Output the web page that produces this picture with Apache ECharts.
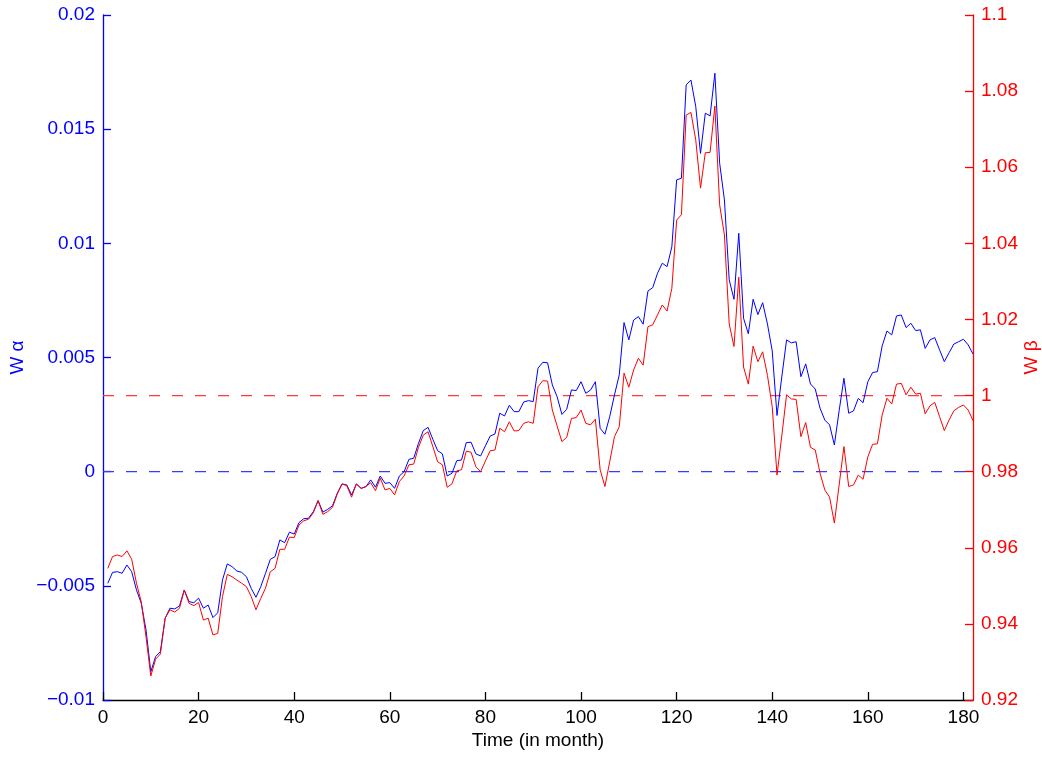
<!DOCTYPE html>
<html>
<head>
<meta charset="utf-8">
<script src="https://cdn.jsdelivr.net/npm/echarts@6/dist/echarts.min.js"></script>
<style>
html,body{margin:0;padding:0;background:#fff;}
#chart{width:1042px;height:757px;}
</style>
</head>
<body>
<div id="chart"></div>
<script>
const alpha = [
-0.00489,-0.00441,-0.00438,-0.00445,-0.00409,-0.00438,-0.00518,-0.00576,-0.00693,-0.00876,
-0.00810,-0.00788,-0.00642,-0.00598,-0.00601,-0.00588,-0.00518,-0.00569,-0.00574,-0.00554,
-0.00598,-0.00584,-0.00639,-0.00618,-0.00474,-0.00404,-0.00416,-0.00435,-0.00441,-0.00460,
-0.00511,-0.00550,-0.00504,-0.00445,-0.00384,-0.00372,-0.00299,-0.00311,-0.00265,-0.00273,
-0.00223,-0.00206,-0.00204,-0.00175,-0.00127,-0.00177,-0.00165,-0.00150,-0.00095,-0.00054,
-0.00058,-0.00102,-0.00054,-0.00073,-0.00066,-0.00036,-0.00068,-0.00019,-0.00051,-0.00048,
-0.00073,-0.00019,0.00000,0.00054,0.00059,0.00124,0.00180,0.00194,0.00142,0.00092,
0.00078,-0.00019,-0.00007,0.00048,0.00051,0.00127,0.00129,0.00078,0.00069,0.00113,
0.00156,0.00165,0.00256,0.00244,0.00291,0.00263,0.00263,0.00305,0.00311,0.00307,
0.00453,0.00479,0.00477,0.00380,0.00328,0.00251,0.00273,0.00358,0.00355,0.00394,
0.00343,0.00358,0.00394,0.00190,0.00164,0.00241,0.00336,0.00424,0.00653,0.00577,
0.00664,0.00679,0.00646,0.00791,0.00806,0.00869,0.00913,0.00898,0.00985,0.01278,
0.01285,0.01694,0.01715,0.01599,0.01394,0.01570,0.01558,0.01745,0.01351,0.01190,
0.00840,0.00755,0.01044,0.00672,0.00604,0.00755,0.00688,0.00740,0.00647,0.00529,
0.00246,0.00415,0.00577,0.00564,0.00569,0.00416,0.00472,0.00384,0.00362,0.00278,
0.00226,0.00205,0.00117,0.00267,0.00409,0.00256,0.00266,0.00321,0.00302,0.00394,
0.00434,0.00438,0.00551,0.00616,0.00599,0.00682,0.00686,0.00631,0.00650,0.00618,
0.00621,0.00540,0.00577,0.00587,0.00534,0.00482,0.00521,0.00559,0.00569,0.00580,
0.00555,0.00515
];
const beta = [
0.9546,0.9577,0.9581,0.9577,0.9592,0.9570,0.9507,0.9458,0.9366,0.9263,
0.9307,0.9321,0.9415,0.9437,0.9431,0.9441,0.9489,0.9454,0.9448,0.9456,
0.9410,0.9415,0.9371,0.9375,0.9472,0.9530,0.9524,0.9515,0.9507,0.9498,
0.9472,0.9437,0.9467,0.9494,0.9537,0.9546,0.9596,0.9596,0.9628,0.9627,
0.9660,0.9671,0.9675,0.9692,0.9724,0.9688,0.9695,0.9706,0.9741,0.9768,
0.9763,0.9733,0.9768,0.9756,0.9761,0.9771,0.9750,0.9783,0.9752,0.9756,
0.9739,0.9774,0.9789,0.9818,0.9820,0.9864,0.9896,0.9905,0.9866,0.9826,
0.9818,0.9759,0.9768,0.9802,0.9805,0.9854,0.9851,0.9813,0.9800,0.9828,
0.9855,0.9857,0.9914,0.9905,0.9931,0.9907,0.9908,0.9927,0.9931,0.9927,
1.0023,1.0039,1.0038,0.9962,0.9920,0.9879,0.9890,0.9940,0.9942,0.9962,
0.9927,0.9923,0.9938,0.9805,0.9761,0.9826,0.9892,0.9918,1.0059,1.0022,
1.0067,1.0098,1.0080,1.0181,1.0186,1.0212,1.0238,1.0222,1.0282,1.0461,
1.0475,1.0737,1.0744,1.0672,1.0545,1.0638,1.0639,1.0761,1.0501,1.0422,
1.0188,1.0129,1.0311,1.0075,1.0030,1.0130,1.0089,1.0115,1.0053,0.9971,
0.9791,0.9894,1.0002,0.9991,0.9990,0.9892,0.9929,0.9864,0.9857,0.9796,
0.9752,0.9733,0.9665,0.9765,0.9866,0.9761,0.9765,0.9791,0.9780,0.9839,
0.9872,0.9873,0.9949,0.9993,0.9978,1.0030,1.0032,1.0002,1.0022,1.0004,
1.0006,0.9952,0.9973,0.9982,0.9945,0.9908,0.9936,0.9960,0.9969,0.9975,
0.9962,0.9934
];
const xTicks = [0,20,40,60,80,100,120,140,160,180];
const xRange = [0, 182];
const alphaTickLabels = ['\u22120.01','\u22120.005','0','0.005','0.01','0.015','0.02'];
const betaTickLabels = ['0.92','0.94','0.96','0.98','1','1.02','1.04','1.06','1.08','1.1'];
const alphaRef = 0;
const betaRef = 1;

const FONT = '"Liberation Sans", Arial, Helvetica, sans-serif';
const BLUE = '#0000ff', RED = '#ff0000';
const FS = 19;

const chart = echarts.init(document.getElementById('chart'), null, {renderer:'canvas'});
chart.setOption({
  animation:false,
  backgroundColor:'#fff',
  grid:{left:103, right:69, top:15, bottom:57, containLabel:false, outerBoundsMode:'none'},
  xAxis:{
    type:'value', min:xRange[0], max:xRange[1], position:'bottom',
    axisLine:{show:true, onZero:false, lineStyle:{color:'#000000', width:1.3}},
    axisTick:{show:true, inside:true, length:8, customValues:xTicks, lineStyle:{color:'#000000', width:1.3}},
    axisLabel:{customValues:xTicks, color:'#000', fontSize:FS, fontFamily:FONT, margin:8},
    splitLine:{show:false},
    name:'Time (in month)', nameLocation:'middle', nameGap:31, nameMoveOverlap:false,
    nameTextStyle:{color:'#000', fontSize:FS, fontFamily:FONT}
  },
  yAxis:[
    {
      type:'value', min:-0.01, max:0.02, interval:0.005, position:'left',
      axisLine:{show:true, onZero:false, lineStyle:{color:BLUE, width:1.3, opacity:1}},
      axisTick:{show:true, inside:true, length:8, lineStyle:{color:BLUE, width:1.3, opacity:1}},
      axisLabel:{color:BLUE, fontSize:FS, fontFamily:FONT, margin:8,
        formatter:v => alphaTickLabels[Math.round((v + 0.01) / 0.005)] || ''},
      splitLine:{show:false},
      name:'W \u03b1', nameLocation:'middle', nameGap:76, nameRotate:90, nameMoveOverlap:false,
      nameTextStyle:{color:BLUE, fontSize:FS, fontFamily:FONT, align:'center', verticalAlign:'bottom'}
    },
    {
      type:'value', min:0.92, max:1.1, interval:0.02, position:'right',
      axisLine:{show:true, onZero:false, lineStyle:{color:RED, width:1.3, opacity:1}},
      axisTick:{show:true, inside:true, length:8, lineStyle:{color:RED, width:1.3, opacity:1}},
      axisLabel:{color:RED, fontSize:FS, fontFamily:FONT, margin:8,
        formatter:v => betaTickLabels[Math.round((v - 0.92) / 0.02)] || ''},
      splitLine:{show:false},
      name:'W \u03b2', nameLocation:'middle', nameGap:49, nameRotate:90, nameMoveOverlap:false,
      nameTextStyle:{color:RED, fontSize:FS, fontFamily:FONT, align:'center', verticalAlign:'top'}
    }
  ],
  series:[
    {
      type:'line', yAxisIndex:0, showSymbol:false, symbol:'none', silent:true,
      data: xRange.map(x => [x, alphaRef]),
      lineStyle:{color:'#3a3aff', width:1.2, type:[11,12]}, itemStyle:{color:BLUE}
    },
    {
      type:'line', yAxisIndex:1, showSymbol:false, symbol:'none', silent:true,
      data: xRange.map(x => [x, betaRef]),
      lineStyle:{color:'#ff3a3a', width:1.2, type:[11,12]}, itemStyle:{color:RED}
    },
    {
      type:'line', yAxisIndex:0, showSymbol:false, symbol:'none',
      data: alpha.map((v,i)=>[i+1, v]),
      lineStyle:{color:BLUE, width:1}, itemStyle:{color:BLUE}
    },
    {
      type:'line', yAxisIndex:1, showSymbol:false, symbol:'none',
      data: beta.map((v,i)=>[i+1, v]),
      lineStyle:{color:RED, width:1}, itemStyle:{color:RED}
    }
  ]
});
</script>
</body>
</html>
